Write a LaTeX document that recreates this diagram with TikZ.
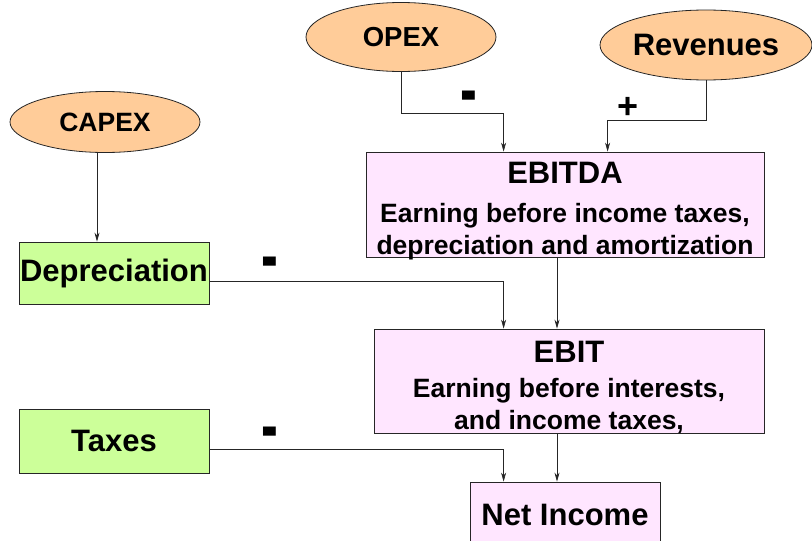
\documentclass[tikz,border=0pt]{standalone}
\usepackage{fontspec}
\setmainfont{Liberation Sans}
\usetikzlibrary{arrows.meta,shapes.geometric}

\definecolor{peach}{RGB}{255,204,153}
\definecolor{lightpink}{RGB}{255,230,255}
\definecolor{lightgreen}{RGB}{204,255,153}

\tikzset{
  cost/.style={ellipse, draw=black!85, fill=peach, line width=0.8pt, inner sep=0pt},
  result/.style={rectangle, draw=black!85, fill=lightpink, line width=0.8pt, inner sep=0pt,
    align=center, font=\bfseries\fontsize{26.5}{32}\selectfont},
  charge/.style={rectangle, draw=black!85, fill=lightgreen, line width=0.8pt, inner sep=0pt,
    minimum width=190pt, font=\bfseries\fontsize{31}{34}\selectfont},
  flow/.style={-{Stealth[length=9pt,width=5pt]}, line width=0.6pt, black!85},
  sign/.style={inner sep=0pt, font=\bfseries\fontsize{48}{48}\selectfont}
}
\newcommand{\titlefont}{\fontsize{31}{32}\selectfont}
\newcommand{\minussign}{\scalebox{1.05}[1.6]{-}}

\begin{document}
\begin{tikzpicture}[x=1pt,y=-1pt]
\useasboundingbox (0,0) rectangle (812,541);

% inputs
\node[cost, minimum width=190pt, minimum height=69pt, font=\bfseries\fontsize{27.5}{30}\selectfont] (opex) at (401,37) {OPEX};
\node[cost, minimum width=212pt, minimum height=70pt, font=\bfseries\fontsize{31}{34}\selectfont] (rev) at (706,45) {Revenues};
\node[cost, minimum width=190pt, minimum height=61pt, font=\bfseries\fontsize{26.5}{30}\selectfont] (capex) at (105,122) {CAPEX};

% intermediate results
\node[result, minimum width=398pt, minimum height=105pt, text height=99pt, text depth=0pt] (ebitda) at (565,204.5)
  {{\titlefont EBITDA}\\[7pt] Earning before income taxes,\\ depreciation and amortization};
\node[result, minimum width=390pt, minimum height=104pt, text height=96pt, text depth=0pt] (ebit) at (569,381)
  {{\titlefont EBIT}\\[3pt] Earning before interests,\\ and income taxes,};
\node[result, minimum width=190pt, minimum height=66pt, font=\bfseries\fontsize{31}{34}\selectfont] (net) at (565,515) {Net Income};

% charges
\node[charge, minimum height=62pt] (depr) at (114,273) {Depreciation};
\node[charge, minimum height=64pt] (taxes) at (114,441) {Taxes};

% signs
\node[sign] (opexminus) at (469,103) {\minussign};
\node[sign, font=\bfseries\fontsize{36}{36}\selectfont] (revplus) at (628,108) {+};
\node[sign] (deprminus) at (270,269) {\minussign};
\node[sign] (taxminus) at (270,439) {\minussign};

% connectors
\draw[flow] (opex.south) -- ++(0,41) -| ([xshift=138pt]ebitda.north west);
\draw[flow] (rev.south) -- ++(0,40) -| ([xshift=242pt]ebitda.north west);
\draw[flow] ([xshift=-8pt]capex.south) -- ([xshift=-8pt]capex.south |- depr.north);
\draw[flow] ([yshift=-8pt]depr.east) -| ([xshift=130pt]ebit.north west);
\draw[flow] ([xshift=-8pt]ebitda.south) -- ([xshift=-8pt]ebitda.south |- ebit.north);
\draw[flow] ([yshift=-8pt]taxes.east) -| ([xshift=34pt]net.north west);
\draw[flow] ([xshift=-12pt]ebit.south) -- ([xshift=-12pt]ebit.south |- net.north);
\end{tikzpicture}
\end{document}
